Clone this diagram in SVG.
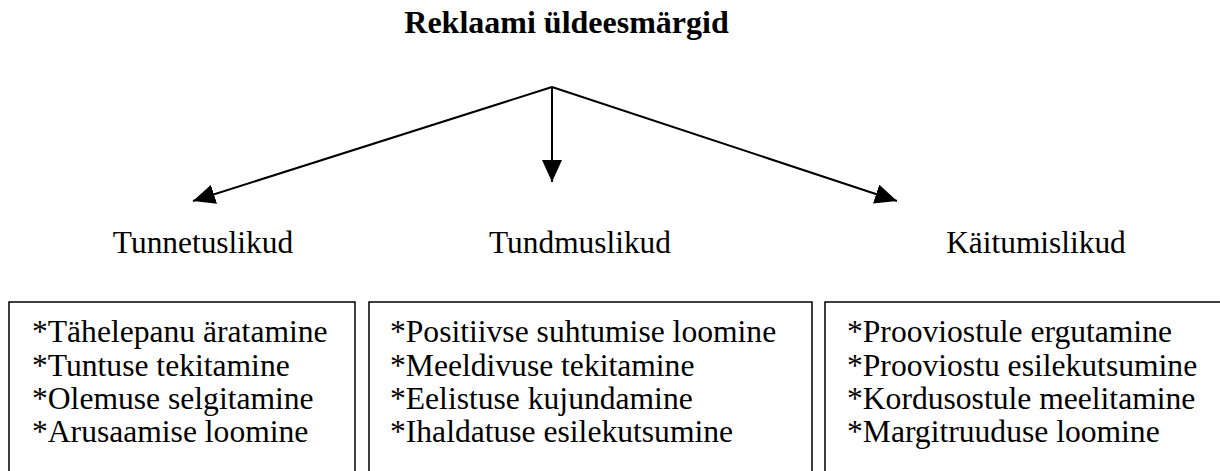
<svg xmlns="http://www.w3.org/2000/svg" width="1220" height="471" viewBox="0 0 1220 471">
<style>
text{font-family:'Liberation Serif','Times New Roman',Times,serif;fill:#000}
.t{font-size:32px;font-weight:bold;text-anchor:middle}
.h{font-size:31.4px;text-anchor:middle}
.i{font-size:31.6px}
.box{fill:#fff;stroke:#000;stroke-width:1.5}
.c{stroke:#000;stroke-width:2;fill:none}
</style>
<defs>
<marker id="ah" markerWidth="22" markerHeight="20" refX="22" refY="10" orient="auto" markerUnits="userSpaceOnUse">
<path d="M0,0 L22,10 L0,20 Z" fill="#000"/>
</marker>
</defs>
<rect width="1220" height="471" fill="#fff"/>
<g id="title"><text class="t" x="566.5" y="33">Reklaami üldeesmärgid</text></g>
<g id="connectors">
<line class="c" x1="552" y1="87" x2="193" y2="201" marker-end="url(#ah)"/>
<line class="c" x1="552" y1="87" x2="552" y2="182" marker-end="url(#ah)"/>
<line class="c" x1="552" y1="87" x2="897" y2="201" marker-end="url(#ah)"/>
</g>
<g id="n1">
<text class="h" x="203" y="253">Tunnetuslikud</text>
<rect class="box" x="9" y="302" width="346" height="190"/>
<text class="i" x="32" y="342">*Tähelepanu äratamine</text>
<text class="i" x="32" y="375.5">*Tuntuse tekitamine</text>
<text class="i" x="32" y="409">*Olemuse selgitamine</text>
<text class="i" x="32" y="442">*Arusaamise loomine</text>
</g>
<g id="n2">
<text class="h" x="580" y="253">Tundmuslikud</text>
<rect class="box" x="369" y="302" width="443" height="190"/>
<text class="i" x="390" y="342">*Positiivse suhtumise loomine</text>
<text class="i" x="390" y="375.5">*Meeldivuse tekitamine</text>
<text class="i" x="390" y="409">*Eelistuse kujundamine</text>
<text class="i" x="390" y="442">*Ihaldatuse esilekutsumine</text>
</g>
<g id="n3">
<text class="h" x="1036" y="253">Käitumislikud</text>
<rect class="box" x="825" y="302" width="420" height="190"/>
<text class="i" x="847" y="342">*Prooviostule ergutamine</text>
<text class="i" x="847" y="375.5">*Prooviostu esilekutsumine</text>
<text class="i" x="847" y="409">*Kordusostule meelitamine</text>
<text class="i" x="847" y="442">*Margitruuduse loomine</text>
</g>
</svg>
